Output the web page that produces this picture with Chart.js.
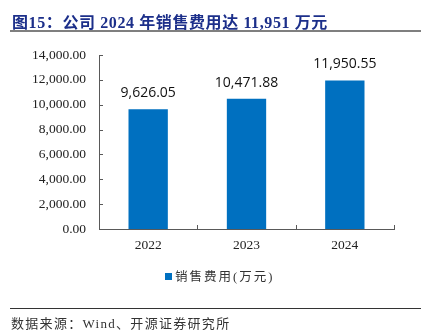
<!DOCTYPE html>
<html>
<head>
<meta charset="utf-8">
<script src="https://cdn.jsdelivr.net/npm/chart.js@4.4.1/dist/chart.umd.min.js"></script>
<style>
  body { margin: 0; background: #fff; }
  #wrap { position: relative; width: 436px; height: 331px; overflow: hidden; }
  #myChart { position: absolute; left: 0; top: 0; }
  #title {
    position: absolute; left: 12px; top: 9px; white-space: nowrap;
    font: bold 16px "Liberation Serif", "Noto Sans CJK SC", serif;
    color: #1c2f8a; letter-spacing: 0.6px;
  }
  #title-line { position: absolute; left: 10px; top: 30px; width: 411px; height: 2px; background: #7f7f7f; }
  #legend {
    position: absolute; left: 165px; top: 269px; white-space: nowrap;
    font: 12.5px "Liberation Serif", "Noto Sans CJK SC", serif;
    color: #333; letter-spacing: 2px; line-height: 16px;
  }
  #legend .box { display: inline-block; width: 7px; height: 7px; background: #0070c0; margin-right: 3px; vertical-align: 1px; }
  #src-line { position: absolute; left: 10px; top: 308px; width: 411px; height: 1px; background: #333; }
  #source {
    position: absolute; left: 11px; top: 313px; white-space: nowrap;
    font: 13px "Liberation Serif", "Noto Sans CJK SC", serif;
    color: #333; letter-spacing: 1.3px;
  }
</style>
</head>
<body>
<div id="wrap">
  <canvas id="myChart" width="436" height="331"></canvas>
  <div id="title">图15：公司 2024 年销售费用达 11,951 万元</div>
  <div id="title-line"></div>
  <div id="legend"><span class="box"></span><span id="legend-text"></span></div>
  <div id="src-line"></div>
  <div id="source">数据来源：Wind、开源证券研究所</div>
</div>
<script>
var years = ["2022", "2023", "2024"];
var salesCost = [9626.05, 10471.88, 11950.55];
var seriesName = "销售费用(万元)";
var yTicks = [0, 2000, 4000, 6000, 8000, 10000, 12000, 14000];

function fmt(v) {
  return v.toLocaleString('en-US', { minimumFractionDigits: 2, maximumFractionDigits: 2 });
}

// small inner tick marks on both axes + value labels above bars
var extras = {
  id: 'extras',
  afterDatasetsDraw: function (chart) {
    var ctx = chart.ctx;
    var x = chart.scales.x, y = chart.scales.y;
    ctx.save();
    ctx.strokeStyle = '#595959';
    ctx.lineWidth = 1;
    ctx.beginPath();
    yTicks.forEach(function (t) {
      var py = Math.round(y.getPixelForValue(t)) + 0.5;
      ctx.moveTo(x.left, py);
      ctx.lineTo(x.left + 4, py);
    });
    var step = (x.right - x.left) / years.length;
    for (var i = 1; i <= years.length; i++) {
      var px = Math.round(x.left + step * i) + 0.5;
      ctx.moveTo(px, y.bottom);
      ctx.lineTo(px, y.bottom - 4);
    }
    ctx.stroke();

    ctx.fillStyle = '#111';
    ctx.font = '14px "Open Sans", sans-serif';
    ctx.textAlign = 'center';
    ctx.textBaseline = 'middle';
    chart.getDatasetMeta(0).data.forEach(function (bar, i) {
      ctx.fillText(fmt(salesCost[i]), bar.x, bar.y - 16);
    });
    ctx.restore();
  }
};

document.getElementById('legend-text').textContent = seriesName;

var ctx = document.getElementById('myChart').getContext('2d');
var myChart = new Chart(ctx, {
  type: 'bar',
  data: {
    labels: years,
    datasets: [{
      label: seriesName,
      data: salesCost,
      backgroundColor: '#0070c0',
      categoryPercentage: 1,
      barPercentage: 0.4
    }]
  },
  options: {
    responsive: false,
    animation: false,
    layout: { padding: { left: 0, right: 42, top: 55, bottom: 72 } },
    plugins: {
      tooltip: { enabled: false },
      legend: { display: false }
    },
    scales: {
      x: {
        grid: { display: false, drawTicks: false },
        border: { color: '#595959' },
        ticks: { color: '#222', padding: 8, font: { size: 13.5, family: '"Liberation Serif", serif' } },
        afterFit: function (s) { s.height = 30; }
      },
      y: {
        min: 0, max: 14000,
        grid: { display: false, drawTicks: false },
        border: { color: '#595959' },
        ticks: {
          stepSize: 2000, padding: 13, color: '#222',
          font: { size: 13.5, family: '"Liberation Serif", serif' },
          callback: function (v) { return fmt(v); }
        },
        afterFit: function (s) { s.width = 99; }
      }
    }
  },
  plugins: [extras]
});
</script>
</body>
</html>
